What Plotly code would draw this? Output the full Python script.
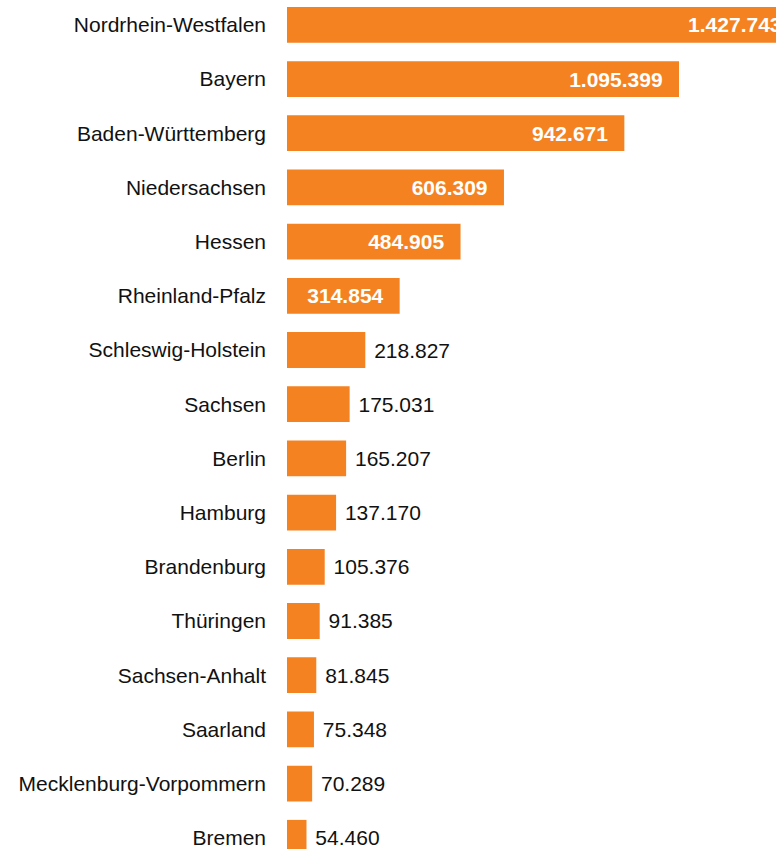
import plotly.graph_objects as go

states = [
    "Nordrhein-Westfalen", "Bayern", "Baden-Württemberg", "Niedersachsen",
    "Hessen", "Rheinland-Pfalz", "Schleswig-Holstein", "Sachsen", "Berlin",
    "Hamburg", "Brandenburg", "Thüringen", "Sachsen-Anhalt", "Saarland",
    "Mecklenburg-Vorpommern", "Bremen",
]
values = [
    1427743, 1095399, 942671, 606309, 484905, 314854, 218827, 175031,
    165207, 137170, 105376, 91385, 81845, 75348, 70289, 54460,
]

inside_threshold = 300000
positions = ["inside" if v > inside_threshold else "outside" for v in values]
templates = [
    "%{x:,}\u00a0\u00a0\u200a" if v > inside_threshold else "\u00a0%{x:,}"
    for v in values
]

ORANGE = "#F58220"
FONT = "Liberation Sans, Arial, sans-serif"

fig = go.Figure(
    go.Bar(
        x=values,
        y=states,
        orientation="h",
        marker=dict(color=ORANGE, line=dict(width=0)),
        texttemplate=templates,
        textposition=positions,
        insidetextanchor="end",
        insidetextfont=dict(family=FONT, size=21, color="white", weight="bold"),
        outsidetextfont=dict(family=FONT, size=21, color="#111111"),
        constraintext="none",
        cliponaxis=True,
        hoverinfo="skip",
    )
)

fig.update_layout(
    width=776,
    height=849,
    margin=dict(l=287, r=0, t=0, b=0, pad=0),
    paper_bgcolor="white",
    plot_bgcolor="white",
    separators=",.",
    bargap=0.34,
    showlegend=False,
    font=dict(family=FONT, size=21, color="#111111"),
)
fig.update_xaxes(
    range=[0, 1366450],
    showticklabels=False,
    showgrid=False,
    zeroline=False,
    showline=False,
    fixedrange=True,
)
fig.update_yaxes(
    categoryorder="array",
    categoryarray=states,
    range=[15.207, -0.458],
    showgrid=False,
    zeroline=False,
    showline=False,
    ticks="",
    ticklabelstandoff=20,
    automargin=False,
    tickfont=dict(family=FONT, size=21, color="#111111"),
    fixedrange=True,
)

fig.write_html(
    "out.html",
    config={"displayModeBar": False, "staticPlot": True},
    post_script="document.body.style.margin='0';document.body.style.overflow='hidden';",
)
